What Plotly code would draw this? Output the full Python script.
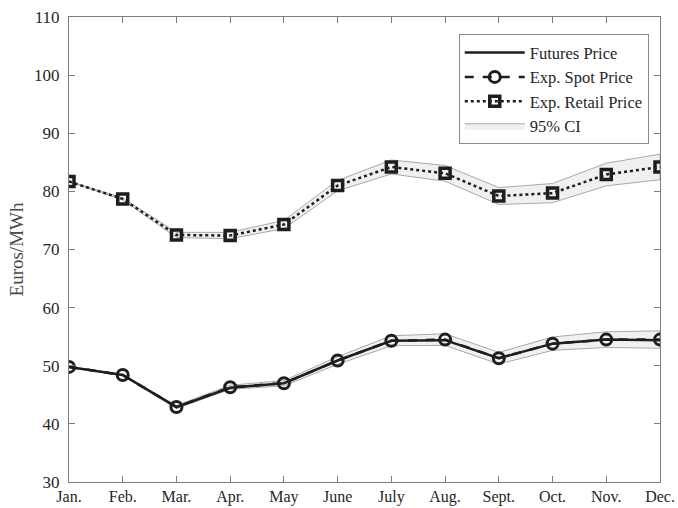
import plotly.graph_objects as go

# Monthly price paths (Euros/MWh)
months = ["Jan.", "Feb.", "Mar.", "Apr.", "May", "June", "July", "Aug.", "Sept.", "Oct.", "Nov.", "Dec."]
futures_price = [49.8, 48.4, 42.9, 46.2, 47.0, 50.9, 54.3, 54.4, 51.3, 53.8, 54.5, 54.4]
spot_price = [49.8, 48.4, 42.9, 46.3, 47.0, 50.9, 54.3, 54.5, 51.3, 53.8, 54.5, 54.5]
spot_ci_half = [0.05, 0.1, 0.25, 0.35, 0.45, 0.65, 0.85, 1.0, 1.0, 1.15, 1.35, 1.5]
retail_price = [81.7, 78.7, 72.5, 72.4, 74.3, 81.0, 84.2, 83.1, 79.2, 79.7, 82.9, 84.2]
retail_ci_half = [0.05, 0.15, 0.45, 0.55, 0.7, 0.9, 1.2, 1.35, 1.45, 1.65, 1.95, 2.2]

axis_gray = "#7d7d7d"
ink = "#1e1e1e"
band_fill = "#f0f0f0"
band_edge = "#a9a9a9"
serif = "Liberation Serif"

fig = go.Figure()


def add_band(center, half, show):
    upper = [c + h for c, h in zip(center, half)]
    lower = [c - h for c, h in zip(center, half)]
    fig.add_trace(go.Scatter(
        x=months + months[::-1],
        y=upper + lower[::-1],
        fill="toself",
        fillcolor=band_fill,
        line=dict(color=band_edge, width=1),
        mode="lines",
        name="95% CI",
        legendgroup="ci",
        legendrank=4,
        showlegend=show,
        hoverinfo="skip",
    ))


add_band(spot_price, spot_ci_half, True)
add_band(retail_price, retail_ci_half, False)

fig.add_trace(go.Scatter(
    x=months, y=futures_price, mode="lines", name="Futures Price",
    line=dict(color=ink, width=2.5), legendrank=1,
))
fig.add_trace(go.Scatter(
    x=months, y=spot_price, mode="lines+markers", name="Exp. Spot Price",
    line=dict(color=ink, width=2.5, dash="dash"),
    marker=dict(symbol="circle-open", size=11, color=ink, line=dict(width=3, color=ink)),
    legendrank=2,
))
fig.add_trace(go.Scatter(
    x=months, y=retail_price, mode="lines+markers", name="Exp. Retail Price",
    line=dict(color=ink, width=2.5, dash="dot"),
    marker=dict(symbol="square-open", size=10, color=ink, line=dict(width=3.5, color=ink)),
    legendrank=3,
))

fig.update_layout(
    width=678, height=508,
    margin=dict(l=69, r=18, t=17, b=26, autoexpand=False),
    paper_bgcolor="white", plot_bgcolor="white",
    font=dict(family=serif, size=17, color="#262626"),
    showlegend=True,
    legend=dict(
        x=0.981, y=0.963, xanchor="right", yanchor="top",
        bgcolor="white", bordercolor="#8a8a8a", borderwidth=1,
        font=dict(family=serif, size=16.5, color="#262626"),
        itemwidth=60, tracegroupgap=0,
    ),
    xaxis=dict(
        type="category", categoryorder="array", categoryarray=months,
        range=[0, 11], showgrid=False, zeroline=False, automargin=False,
        showline=True, linecolor=axis_gray, linewidth=1.2, mirror="ticks",
        ticks="inside", ticklen=6, tickcolor=axis_gray, tickwidth=1,
        ticklabelstandoff=0,
        tickfont=dict(family=serif, size=16, color="#262626"),
    ),
    yaxis=dict(
        range=[30, 110], dtick=10, showgrid=False, zeroline=False, automargin=False,
        showline=True, linecolor=axis_gray, linewidth=1.2, mirror="ticks",
        ticks="inside", ticklen=6, tickcolor=axis_gray, tickwidth=1,
        ticklabelstandoff=5,
        tickfont=dict(family=serif, size=17, color="#262626"),
        title=dict(text="Euros/MWh", font=dict(family=serif, size=19, color="#4a4a4a"), standoff=5),
    ),
)

fig.write_html("out.html")
